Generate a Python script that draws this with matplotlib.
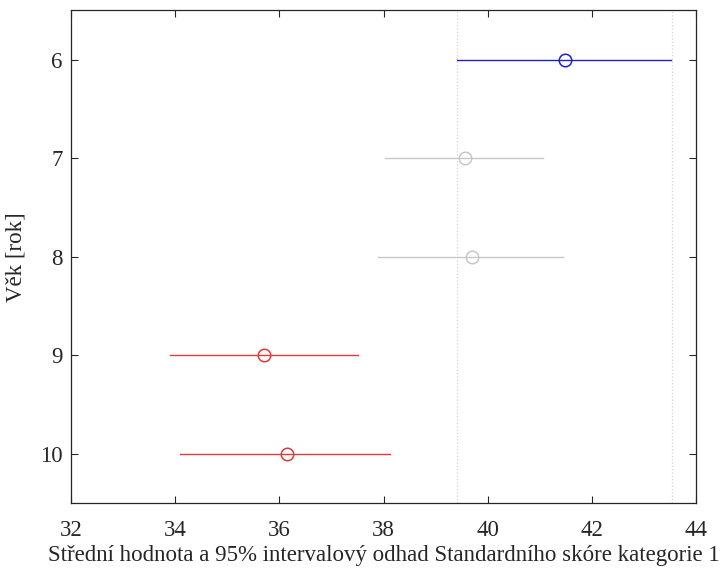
import matplotlib
matplotlib.use("Agg")
import matplotlib.pyplot as plt

plt.rcParams["font.family"] = ["Liberation Serif", "DejaVu Serif"]

# skupiny (věk) a odhady
ages = [6, 7, 8, 9, 10]
means = [41.48, 39.56, 39.70, 35.71, 36.14]
lower = [39.41, 38.03, 37.90, 33.90, 34.09]
upper = [43.52, 41.06, 41.45, 37.51, 38.13]
colors = ["#1f1fd0", "#c8c8c8", "#c8c8c8", "#e03a3a", "#e03a3a"]
ref_lines = [39.41, 43.54]  # interval vybrané skupiny

fig = plt.figure(figsize=(7.22, 5.70), dpi=100)
ax = fig.add_axes([71/722, 67/570, 625/722, 492.7/570])

for xv in ref_lines:
    ax.axvline(xv, color="#d4d4d4", ls=":", lw=0.9, zorder=1)

for a, m, lo, hi, c in zip(ages, means, lower, upper, colors):
    ax.plot([lo, hi], [a, a], color=c, lw=1.0, zorder=2)
    ax.plot([m], [a], marker="o", ms=9, mfc="none", mec=c, mew=1.1, zorder=3)

ax.set_xlim(32, 44)
ax.set_ylim(10.5, 5.5)
ax.set_xticks(range(32, 45, 2))
ax.set_yticks(ages)
ax.tick_params(direction="in", length=5, width=0.8, top=True, right=True,
               labelsize=16.5, colors="#262626")
ax.tick_params(axis="x", pad=12)
ax.tick_params(axis="y", pad=6)
for s in ax.spines.values():
    s.set_color("#262626")
    s.set_linewidth(0.9)

ax.set_xlabel("Střední hodnota a 95% intervalový odhad Standardního skóre kategorie 1",
              fontsize=16.5, color="#262626", labelpad=3)
ax.set_ylabel("Věk [rok]", fontsize=16.5, color="#262626", labelpad=10)

fig.savefig("out.png", dpi=100)
